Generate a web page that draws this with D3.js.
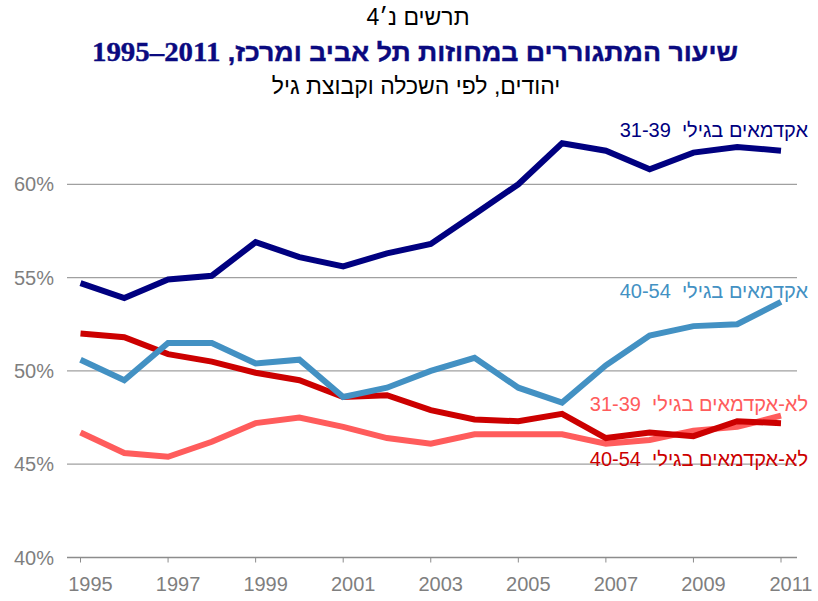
<!DOCTYPE html>
<html>
<head>
<meta charset="utf-8">
<script src="https://cdn.jsdelivr.net/npm/d3@7"></script>
<style>
  body { margin: 0; background: #fff; }
  text { font-family: "Liberation Sans", Arial, sans-serif; }
</style>
</head>
<body>
<div id="chart"></div>
<script>
// data
const years = [1995, 1996, 1997, 1998, 1999, 2000, 2001, 2002, 2003, 2004, 2005, 2006, 2007, 2008, 2009, 2010, 2011];
const tickYears = [1995, 1997, 1999, 2001, 2003, 2005, 2007, 2009, 2011];
const yTicks = [40, 45, 50, 55, 60];

const acad3139 = [54.7, 53.9, 54.9, 55.1, 56.9, 56.1, 55.6, 56.3, 56.8, 58.4, 60.0, 62.2, 61.8, 60.8, 61.7, 62.0, 61.8];
const acad4054 = [50.6, 49.5, 51.5, 51.5, 50.4, 50.6, 48.6, 49.1, 50.0, 50.7, 49.1, 48.3, 50.3, 51.9, 52.4, 52.5, 53.7];
const nonAcad3139 = [46.7, 45.6, 45.4, 46.2, 47.2, 47.5, 47.0, 46.4, 46.1, 46.6, 46.6, 46.6, 46.1, 46.3, 46.8, 47.0, 47.6];
const nonAcad4054 = [52.0, 51.8, 50.9, 50.5, 49.9, 49.5, 48.6, 48.7, 47.9, 47.4, 47.3, 47.7, 46.4, 46.7, 46.5, 47.3, 47.2];

const seriesNames = ["לא-אקדמאים בגילי  31-39", "לא-אקדמאים בגילי  40-54", "אקדמאים בגילי  40-54", "אקדמאים בגילי  31-39"];
const seriesValues = [nonAcad3139, nonAcad4054, acad4054, acad3139];
const seriesColors = ["#ff5c5c", "#cc0000", "#4391c3", "#000080"];

class LineVis {
    constructor(_parentElement) {
        this.parentElement = _parentElement;
        this.initVis();
    }

    initVis() {
        let vis = this;

        vis.width = 818;
        vis.height = 601;

        vis.svg = d3.select("#" + vis.parentElement).append("svg")
            .attr("width", vis.width)
            .attr("height", vis.height);

        vis.x = d3.scaleLinear().domain([1995, 2011]).range([80.5, 781]);
        vis.y = d3.scaleLinear().domain([40, 60]).range([557.5, 184.3]);

        // titles
        vis.svg.append("text")
            .attr("x", 418).attr("y", 25)
            .attr("text-anchor", "middle")
            .attr("direction", "rtl")
            .style("font-size", "23px")
            .style("fill", "#000")
            .text("תרשים נ׳4");

        // the reference title is set in a wide heavy face, so stretch it to its width
        let title = vis.svg.append("text")
            .attr("x", 415).attr("y", 61)
            .attr("text-anchor", "middle")
            .attr("direction", "rtl")
            .attr("textLength", 646)
            .attr("lengthAdjust", "spacingAndGlyphs")
            .style("font-weight", "bold")
            .style("font-size", "25px")
            .style("fill", "#0a0a80")
            .style("stroke", "#0a0a80")
            .style("stroke-width", 0.4);
        title.append("tspan")
            .style("font-family", "'Liberation Sans', Arial, sans-serif")
            .text("שיעור המתגוררים במחוזות תל אביב ומרכז, ");
        title.append("tspan")
            .style("font-family", "'Liberation Serif', 'Times New Roman', serif")
            .style("font-size", "27px")
            .text("2011–1995");

        vis.svg.append("text")
            .attr("x", 416).attr("y", 94)
            .attr("text-anchor", "middle")
            .attr("direction", "rtl")
            .style("font-size", "23px")
            .style("fill", "#000")
            .text("יהודים, לפי השכלה וקבוצת גיל");

        // gridlines
        vis.svg.selectAll(".grid")
            .data(yTicks.slice(1))
            .enter().append("line")
            .attr("class", "grid")
            .attr("x1", 67).attr("x2", 797)
            .attr("y1", d => vis.y(d)).attr("y2", d => vis.y(d))
            .attr("stroke", "#a0a0a0")
            .attr("stroke-width", 1.3);

        // y labels
        vis.svg.selectAll(".ylab")
            .data(yTicks)
            .enter().append("text")
            .attr("class", "ylab")
            .attr("x", 54)
            .attr("y", d => vis.y(d) + 7)
            .attr("text-anchor", "end")
            .style("font-size", "20px")
            .style("fill", "#7f7f7f")
            .text(d => d + "%");

        // x axis
        vis.svg.append("line")
            .attr("x1", 67).attr("x2", 797)
            .attr("y1", vis.y(40)).attr("y2", vis.y(40))
            .attr("stroke", "#8c8c8c")
            .attr("stroke-width", 1.3);

        vis.svg.selectAll(".xtick")
            .data(tickYears)
            .enter().append("line")
            .attr("class", "xtick")
            .attr("x1", d => vis.x(d)).attr("x2", d => vis.x(d))
            .attr("y1", vis.y(40)).attr("y2", vis.y(40) + 5)
            .attr("stroke", "#8c8c8c");

        vis.svg.selectAll(".xlab")
            .data(tickYears)
            .enter().append("text")
            .attr("class", "xlab")
            .attr("x", d => vis.x(d) + 10)
            .attr("y", 591)
            .attr("text-anchor", "middle")
            .style("font-size", "20px")
            .style("fill", "#7f7f7f")
            .text(d => d);

        // lines
        vis.line = d3.line()
            .x((d, i) => vis.x(years[i]))
            .y(d => vis.y(d));

        vis.svg.selectAll(".series")
            .data(seriesValues)
            .enter().append("path")
            .attr("class", "series")
            .attr("d", d => vis.line(d))
            .attr("fill", "none")
            .attr("stroke", (d, i) => seriesColors[i])
            .attr("stroke-width", 6)
            .attr("stroke-linejoin", "miter");

        // line labels
        const labelY = [411, 466, 298, 137];
        vis.svg.selectAll(".slab")
            .data(seriesNames)
            .enter().append("text")
            .attr("class", "slab")
            .attr("x", 808)
            .attr("y", (d, i) => labelY[i])
            .attr("direction", "rtl")
            .attr("text-anchor", "start")
            .style("font-size", "20px")
            .style("white-space", "pre")
            .style("fill", (d, i) => seriesColors[i])
            .text(d => d);
    }
}

new LineVis("chart");
</script>
</body>
</html>
